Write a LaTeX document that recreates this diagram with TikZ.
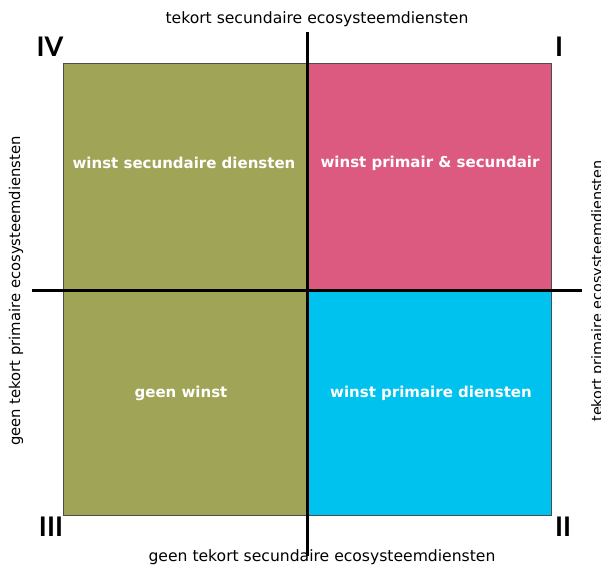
\documentclass[tikz,border=0pt]{standalone}
\usepackage{fontspec}
\setmainfont{DejaVu Sans}
\newfontfamily\cijfer{Lato}
\usetikzlibrary{positioning}

\definecolor{olijf}{RGB}{160,164,86}
\definecolor{roze}{RGB}{220,90,128}
\definecolor{cyaan}{RGB}{0,194,238}

\begin{document}
\begin{tikzpicture}[x=1pt,y=-1pt,
    vlak/.style={draw=black!70,line width=0.8pt},
    as/.style={line width=3pt},
    winst/.style={text=white,font=\bfseries\fontsize{15}{17}\selectfont},
    aslabel/.style={font=\fontsize{15.6}{17}\selectfont,inner sep=0pt,anchor=base},
    kwadrant/.style={font=\cijfer\bfseries\fontsize{27}{28}\selectfont,inner sep=0pt}]
  \useasboundingbox (0,0) rectangle (601,564);
  % de vier kwadranten
  \fill[olijf] (63,63) rectangle (307,515);
  \fill[roze] (307,63) rectangle (551,290);
  \fill[cyaan] (307,290) rectangle (551,515);
  \draw[vlak] (63,63) rectangle (551,515);
  % assen
  \coordinate (boven) at (307,32);
  \coordinate (onder) at (307,556);
  \coordinate (links) at (32,290);
  \coordinate (rechts) at (582,290);
  \draw[as] (boven) -- (onder);
  \draw[as] (links) -- (rechts);
  % teksten in de vlakken
  \node[winst] (sec) at (184,163) {winst secundaire diensten};
  \node[winst] (prisec) at (430,163) {winst primair \& secundair};
  \node[winst] (geen) at (181,393) {geen winst};
  \node[winst] (pri) at (431,393) {winst primaire diensten};
  % aslabels
  \node[aslabel] (lboven) at (317,24) {tekort secundaire ecosysteemdiensten};
  \node[aslabel] (londer) at (322,561) {geen tekort secundaire ecosysteemdiensten};
  \node[aslabel,rotate=90,font=\fontsize{14.8}{16}\selectfont] (llinks) at (20,291) {geen tekort primaire ecosysteemdiensten};
  \node[aslabel,rotate=90,font=\fontsize{14.4}{16}\selectfont] (lrechts) at (602,291) {tekort primaire ecosysteemdiensten};
  % nummering
  \node[kwadrant] (k4) at (50,47) {IV};
  \node[kwadrant] (k1) at (559,47) {I};
  \node[kwadrant] (k3) at (51,527) {III};
  \node[kwadrant] (k2) at (563,527) {II};
\end{tikzpicture}
\end{document}
